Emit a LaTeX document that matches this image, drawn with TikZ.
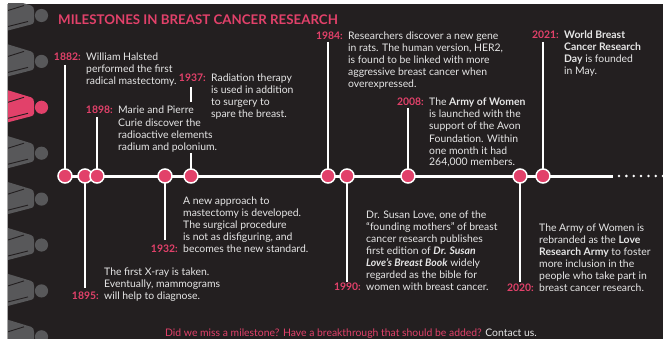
\documentclass[tikz,border=0pt]{standalone}
\usepackage{fontspec}
\setmainfont{Lato}
\definecolor{bgdark}{HTML}{231F20}
\definecolor{pinkc}{HTML}{E2416A}
\definecolor{txtc}{HTML}{E6E6E6}
\definecolor{grayc}{HTML}{58585A}
\tikzset{
  body/.style={font=\fontsize{10.4}{12}\selectfont, text=txtc, align=left, anchor=base west, inner sep=0pt},
  yr/.style={font=\fontsize{10.4}{12}\selectfont\bfseries, text=pinkc, anchor=base east, inner sep=0pt},
  dotc/.style={circle, fill=pinkc, draw=white, line width=1.5pt, minimum size=14pt, inner sep=0pt},
  stem/.style={draw=white, line width=1.4pt},
}
\newcommand{\persona}[2]{%
  \fill[#2] (8,#1-17) -- (31,#1-10) to[out=-10,in=90] (34,#1-5) -- (34,#1+6) to[out=-90,in=10] (31,#1+9) -- (8,#1+15) -- cycle;
  \draw[bgdark, line width=0.9pt] (8,#1-5) -- (24,#1-10);
  \draw[bgdark, line width=0.9pt] (8,#1+11) -- (28,#1+6);
  \fill[#2] (41.5,#1) circle (6.6);
}
\begin{document}
\begin{tikzpicture}[x=1pt,y=-1pt]
\useasboundingbox (0,0) rectangle (663,339);
\fill[white] (0,0) rectangle (663,339);
\fill[bgdark] (8,4) rectangle (663,339);
\draw[gray!70, line width=0.8pt] (7,4) -- (7,339);
\begin{scope}
\clip (8,4) rectangle (663,339);
\foreach \k in {0,1,3,4,5,6,7} {\persona{15.5+45.9*\k}{grayc}}
\persona{15.5+45.9*2}{pinkc}
\end{scope}

% title
\node[font=\fontsize{13.3}{15}\selectfont\bfseries, text=pinkc, anchor=base west, inner sep=0pt] (title) at (58,25) {MILESTONES IN BREAST CANCER RESEARCH};

% stem end coordinates
\coordinate (s1882) at (65,65);
\coordinate (s1898) at (97,117);
\coordinate (s1937a) at (191,87);
\coordinate (s1937b) at (191,102);
\coordinate (s1937c) at (191,153);
\coordinate (s1984) at (328,42);
\coordinate (s2008) at (408,108);
\coordinate (s2021) at (543,42);
\coordinate (s1895) at (85,288);
\coordinate (s1932) at (165,240);
\coordinate (s1990) at (347,282);
\coordinate (s2020) at (520,282);
\coordinate (l1882) at (65,176);
\coordinate (lineend) at (613,176);

\draw[white, line width=3pt] (l1882) -- (lineend);
\draw[stem] (s1882) -- (65,176);
\draw[stem] (s1898) -- (97,176);
\draw[stem] (s1937a) -- (s1937b);
\draw[stem] (s1937c) -- (191,176);
\draw[stem] (s1984) -- (328,176);
\draw[stem] (s2008) -- (408,176);
\draw[stem] (s2021) -- (543,176);
\draw[stem] (s1895) -- (85,176);
\draw[stem] (s1932) -- (165,176);
\draw[stem] (s1990) -- (347,176);
\draw[stem] (s2020) -- (520,176);

% timeline circles
\node[dotc] (c1882) at (65,176) {};
\node[dotc] (c1895) at (85,176) {};
\node[dotc] (c1898) at (97,176) {};
\node[dotc] (c1932) at (165,176) {};
\node[dotc] (c1937) at (191,176) {};
\node[dotc] (c1984) at (328,176) {};
\node[dotc] (c1990) at (347,176) {};
\node[dotc] (c2008) at (408,176) {};
\node[dotc] (c2020) at (520,176) {};
\node[dotc] (c2021) at (543,176) {};
\foreach \k in {0,...,6} \fill[white] (619+7.35*\k,176) circle (1.4);

% texts above (node base = last line baseline)
\node[yr] (y1882) at (81,61) {1882:};
\node[body] (t1882) at (86,85) {William Halsted\\performed the first\\radical mastectomy.};
\node[yr] (y1937) at (206,82) {1937:};
\node[body] (t1937) at (211,118) {Radiation therapy\\is used in addition\\to surgery to\\spare the breast.};
\node[yr] (y1898) at (113,114) {1898:};
\node[body] (t1898) at (118,150) {Marie and Pierre\\Curie discover the\\radioactive elements\\radium and polonium.};
\node[yr] (y1984) at (343,40) {1984:};
\node[body] (t1984) at (348,88) {Researchers discover a new gene\\in rats. The human version, HER2,\\is found to be linked with more\\aggressive breast cancer when\\overexpressed.};
\node[yr] (y2008) at (424,106) {2008:};
\node[body] (t2008) at (429,166) {The \textbf{Army of Women}\\is launched with the\\support of the Avon\\Foundation. Within\\one month it had\\264,000 members.};
\node[yr] (y2021) at (559,39) {2021:};
\node[body] (t2021) at (564,75) {\textbf{World Breast}\\\textbf{Cancer Research}\\\textbf{Day} is founded\\in May.};

% texts below
\node[body] (t1932) at (183,252) {A new approach to\\mastectomy is developed.\\The surgical procedure\\is not as disfiguring, and\\becomes the new standard.};
\node[yr] (y1932) at (178,252) {1932:};
\node[body] (t1895) at (104,299) {The first X-ray is taken.\\Eventually, mammograms\\will help to diagnose.};
\node[yr] (y1895) at (99,299) {1895:};
\node[body] (t1990) at (366,290) {Dr. Susan Love, one of the\\“founding mothers” of breast\\cancer research publishes\\first edition of \textbf{\textit{Dr. Susan}}\\\textbf{\textit{Love’s Breast Book}} widely\\regarded as the bible for\\women with breast cancer.};
\node[yr] (y1990) at (361,290) {1990:};
\node[body] (t2020) at (539,291) {The Army of Women is\\rebranded as the \textbf{Love}\\\textbf{Research Army} to foster\\more inclusion in the\\people who take part in\\breast cancer research.};
\node[yr] (y2020) at (534,291) {2020:};

% footer
\node[font=\fontsize{10.4}{12}\selectfont, anchor=base, inner sep=0pt] (foot) at (351,336.5) {\textcolor{pinkc}{Did we miss a milestone? Have a breakthrough that should be added?} \textcolor{txtc}{Contact us.}};
\end{tikzpicture}
\end{document}
